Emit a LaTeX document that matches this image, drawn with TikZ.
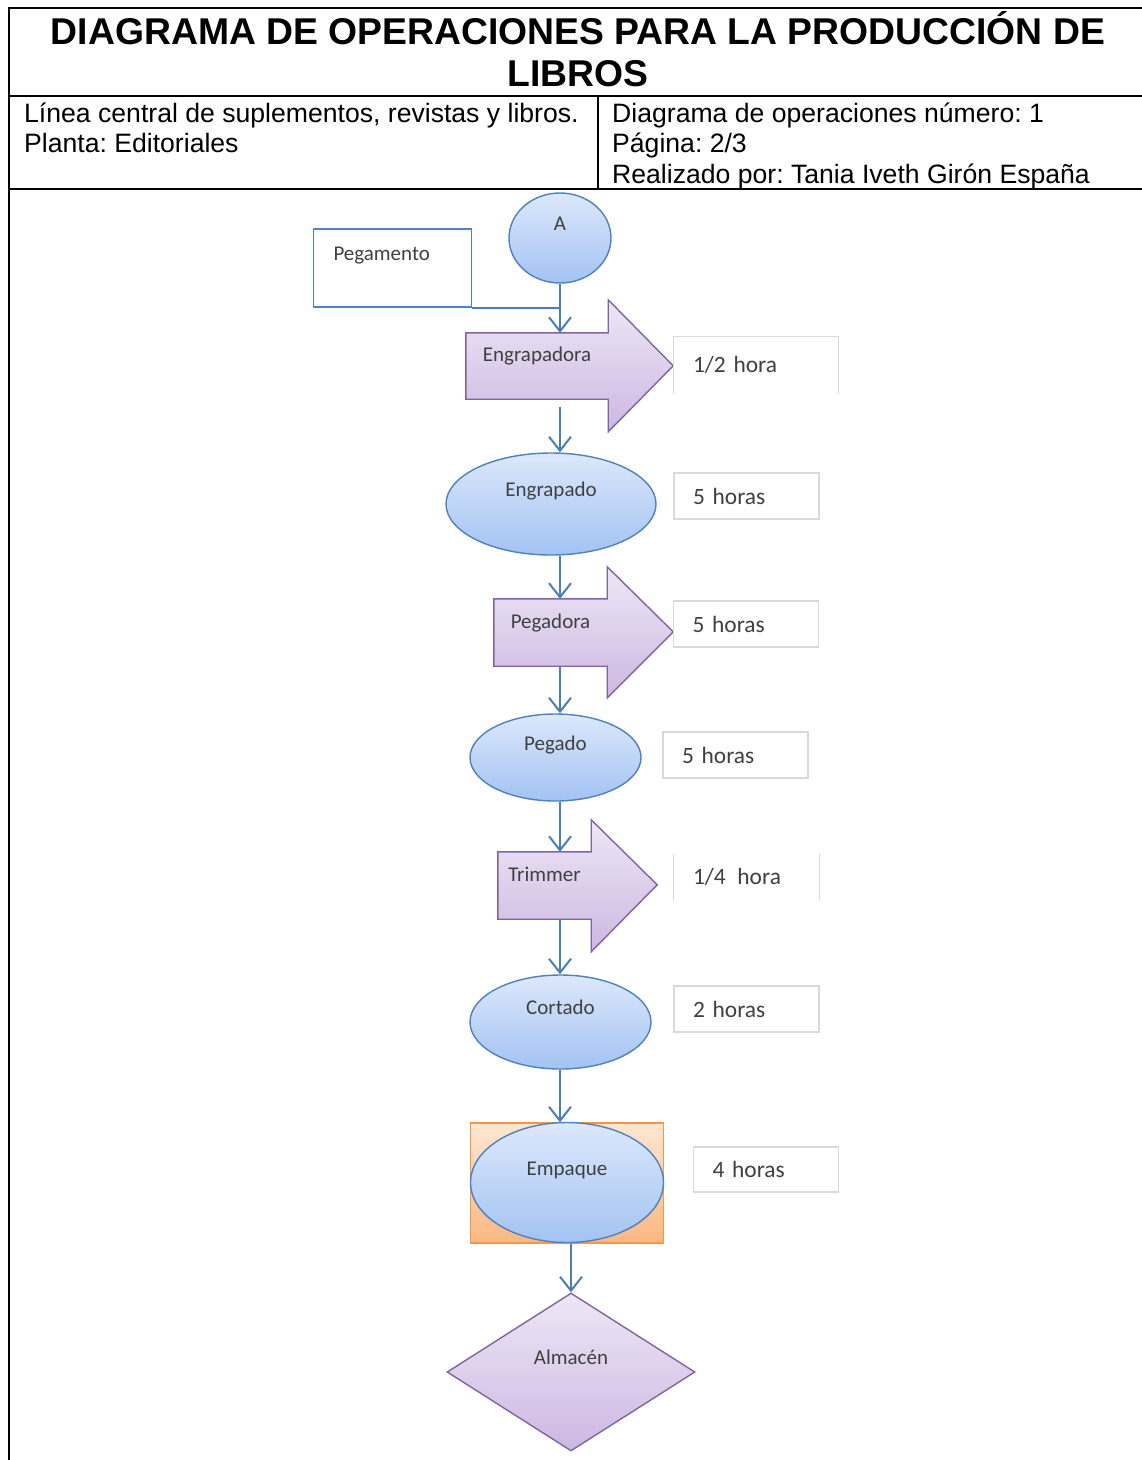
\documentclass[tikz,border=0pt]{standalone}
\usepackage{fontspec}
\setmainfont{Liberation Sans}
\newfontfamily\shapefont{Carlito}
\frenchspacing
\usetikzlibrary{
    positioning,           % Relative positioning
    shapes.geometric,      % Ellipse and diamond
    arrows.meta,           % Barb arrow tips
    backgrounds            % Block arrows behind their labels
}

\definecolor{flowblue}{HTML}{4A7EBB}
\definecolor{ovalline}{HTML}{4F81BD}
\definecolor{ovaltop}{HTML}{DCE8FB}
\definecolor{ovalbot}{HTML}{A3C3F3}
\definecolor{procline}{HTML}{8064A2}
\definecolor{proctop}{HTML}{EEE7F6}
\definecolor{procbot}{HTML}{CCB8E1}
\definecolor{packline}{HTML}{F79646}
\definecolor{packtop}{HTML}{FDE6D2}
\definecolor{packbot}{HTML}{FAB882}
\definecolor{timegray}{HTML}{D9D9D9}
\definecolor{labelgray}{HTML}{404040}

\tikzset{
    frameline/.style={line width=1.6pt},
    titletext/.style={font=\fontsize{37.3}{42}\selectfont\bfseries, inner sep=0pt},
    headtext/.style={font=\fontsize{26.6}{30.6}\selectfont, inner sep=0pt},
    raised/.style={text height=15pt, text depth=30pt},
    shapetext/.style={font=\shapefont\fontsize{21}{25}\selectfont, text=labelgray},
    oval/.style={ellipse, draw=ovalline, line width=1.4pt, top color=ovaltop,
        bottom color=ovalbot, inner sep=0pt, raised, shapetext},
    bodybox/.style={rectangle, inner sep=0pt, text height=15pt, text depth=24pt, shapetext},
    procarrow/.style={draw=procline, line width=1.4pt, top color=proctop,
        bottom color=procbot, line join=miter},
    timebox/.style={rectangle, draw=timegray, line width=1.2pt, inner xsep=19pt,
        inner ysep=0pt, align=left, text width=107pt,
        font=\shapefont\fontsize{23.4}{27}\selectfont, text=labelgray},
    timeedge/.style={draw=timegray, line width=1.2pt},
    flowline/.style={draw=flowblue, line width=2pt},
    flow/.style={flowline, -{Straight Barb[length=14pt,width=22pt]}}
}

\begin{document}
\begin{tikzpicture}[x=1pt,y=-1pt]
    \useasboundingbox (0,0) rectangle (1142,1460);

    % heading table
    \draw[frameline] (1142,8) -- (9,8) -- (9,1460);
    \draw[frameline] (9,96) -- (1142,96);
    \draw[frameline] (9,189) -- (1142,189);
    \draw[frameline] (598,96) -- (598,189);
    \node[titletext, anchor=base] (title1) at (578,44) {DIAGRAMA DE OPERACIONES PARA LA PRODUCCIÓN DE};
    \node[titletext, anchor=base] (title2) at (578,86) {LIBROS};
    \node[headtext, anchor=base west] (linea) at (24,122) {Línea central de suplementos, revistas y libros.};
    \node[headtext, anchor=base west] (planta) at (24,152.6) {Planta: Editoriales};
    \node[headtext, anchor=base west] (numero) at (612,122) {Diagrama de operaciones número: 1};
    \node[headtext, anchor=base west] (pagina) at (612,152.6) {Página: 2/3};
    \node[headtext, anchor=base west] (autor) at (612,183.2) {Realizado por: Tania Iveth Girón España};

    % steps
    \node[oval, minimum width=102pt, minimum height=90pt] (a) at (560,238) {A};
    \node[rectangle, draw=ovalline, line width=1.4pt, fill=white, inner xsep=20pt, inner ysep=0pt,
        text width=118pt, align=left, minimum height=78pt, raised, shapetext] (pegamento) at (392.5,268) {Pegamento};
    \node[bodybox, minimum width=142pt, minimum height=66pt] (engrapadora) at (537,366) {Engrapadora};
    \node[oval, minimum width=210pt, minimum height=102pt] (engrapado) at (551,504) {Engrapado};
    \node[bodybox, minimum width=113pt, minimum height=67pt] (pegadora) at (550.5,632.5) {Pegadora};
    \node[oval, minimum width=171pt, minimum height=87pt] (pegado) at (555.5,757.5) {Pegado};
    \node[bodybox, minimum width=93pt, minimum height=67pt] (trimmer) at (544.5,885.5) {Trimmer};
    \node[oval, minimum width=181pt, minimum height=94pt] (cortado) at (560.5,1022) {Cortado};
    \node[rectangle, draw=packline, line width=1.4pt, top color=packtop, bottom color=packbot,
        minimum width=193pt, minimum height=120pt] (empaquebox) at (567,1183) {};
    \node[oval, minimum width=193pt, minimum height=120pt] (empaque) at (567,1182.5) {Empaque};
    \node[diamond, draw=procline, line width=1.4pt, top color=proctop, bottom color=procbot,
        inner sep=0pt, shape aspect=1.57, minimum width=248pt, minimum height=158pt,
        raised, shapetext] (almacen) at (571,1372) {Almacén};

    % block arrows
    \begin{scope}[on background layer]
        \fill[white] (0,0) rectangle (1142,1460);
        \draw[procarrow] (engrapadora.south west) -- (engrapadora.north west) -- (engrapadora.north east)
            -- ++(0,-33) -- ++(65,66) -- ++(-65,66) -- (engrapadora.south east) -- cycle;
        \draw[procarrow] (pegadora.south west) -- (pegadora.north west) -- (pegadora.north east)
            -- ++(0,-32) -- ++(66,65) -- ++(-66,66) -- (pegadora.south east) -- cycle;
        \draw[procarrow] (trimmer.south west) -- (trimmer.north west) -- (trimmer.north east)
            -- ++(0,-32) -- ++(66,65) -- ++(-66,67) -- (trimmer.south east) -- cycle;
    \end{scope}

    % times
    \node[timebox, draw=none, text width=126pt, minimum height=56pt] (t1) at (756,365) {1/2 hora};
    \draw[timeedge] (t1.south west) -- (t1.north west) -- (t1.north east) -- (t1.south east);
    \node[timebox, minimum height=46pt] (t2) at (746.5,496) {5 horas};
    \node[timebox, minimum height=46pt] (t3) at (746,624) {5 horas};
    \node[timebox, minimum height=46pt] (t4) at (735.5,755) {5 horas};
    \node[timebox, draw=none, minimum height=44pt] (t5) at (746.5,877) {1/4\, hora};
    \draw[timeedge] (t5.north west) -- (t5.south west) (t5.north east) -- (t5.south east);
    \node[timebox, minimum height=46pt] (t6) at (746.5,1009) {2 horas};
    \node[timebox, minimum height=45pt] (t7) at (766,1169.5) {4 horas};

    % flow
    \draw[flowline] (pegamento.south east) -- (pegamento.south east -| a.south);
    \draw[flow] (a.south) -- (a.south |- engrapadora.north);
    \draw[flow] ([yshift=-8pt]engrapadora.south -| a) -- (engrapado.north -| a);
    \draw[flow] (engrapado.south -| a) -- (pegadora.north -| a);
    \draw[flow] (pegadora.south -| a) -- (pegado.north -| a);
    \draw[flow] (pegado.south -| a) -- (trimmer.north -| a);
    \draw[flow] (trimmer.south -| a) -- (cortado.north -| a);
    \draw[flow] (cortado.south -| a) -- (empaquebox.north -| a);
    \draw[flow] (empaquebox.south -| almacen.north) -- (almacen.north);
\end{tikzpicture}
\end{document}
